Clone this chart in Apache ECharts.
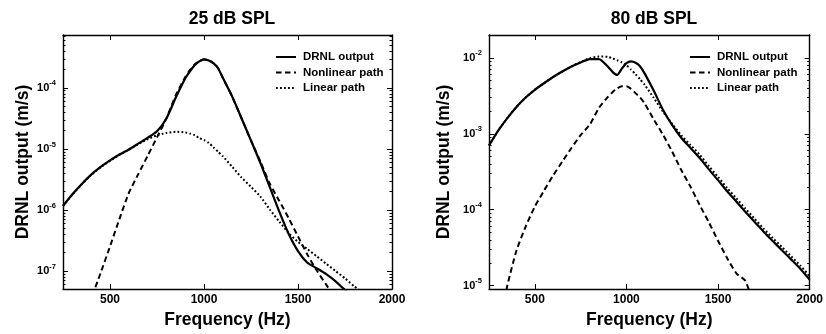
<!DOCTYPE html>
<html><head><meta charset="utf-8">
<script src="https://cdn.jsdelivr.net/npm/echarts@6/dist/echarts.min.js"></script>
<style>html,body{margin:0;padding:0;background:#fff}#c{width:826px;height:334px}</style>
</head><body><div id="c"></div>
<script>
// ---- data ----
const freq = [250,300,350,400,450,500,550,600,650,700,750,800,850,900,925,950,975,1000,1025,1050,1075,1100,1150,1200,1250,1300,1350,1400,1450,1500,1550,1600,1650,1700,1750,1800,1850,1900,1950,2000];

const drnl25 = [1.17e-6,1.81e-6,2.67e-6,3.8e-6,5.07e-6,6.5e-6,8.1e-6,9.8e-6,1.22e-5,1.52e-5,1.95e-5,3.16e-5,6.95e-5,1.42e-4,1.86e-4,2.35e-4,2.72e-4,2.94e-4,2.82e-4,2.54e-4,2.1e-4,1.46e-4,7.2e-5,3.16e-5,1.37e-5,5.9e-6,2.38e-6,9.5e-7,4.1e-7,2.13e-7,1.37e-7,1.11e-7,8.9e-8,6.8e-8,4.9e-8,3.5e-8,2.5e-8,1.8e-8,1.3e-8,9e-9];
const nonlin25 = [1.6e-9,4.5e-9,1.26e-8,3.5e-8,9.3e-8,2.53e-7,7.1e-7,1.9e-6,3.85e-6,7.7e-6,1.55e-5,3.16e-5,7.6e-5,1.5e-4,1.95e-4,2.43e-4,2.75e-4,2.92e-4,2.82e-4,2.54e-4,2.1e-4,1.46e-4,7.2e-5,3.16e-5,1.38e-5,6.2e-6,2.7e-6,1.42e-6,7.4e-7,3.7e-7,1.86e-7,1.02e-7,6e-8,3.5e-8,2e-8,1.2e-8,7e-9,4e-9,2.4e-9,1.4e-9];
const lin25 = [1.16e-6,1.79e-6,2.64e-6,3.75e-6,5.0e-6,6.4e-6,8.0e-6,9.7e-6,1.2e-5,1.44e-5,1.67e-5,1.83e-5,1.91e-5,1.87e-5,1.79e-5,1.68e-5,1.51e-5,1.4e-5,1.26e-5,1.07e-5,9e-6,7.6e-6,5.1e-6,3.4e-6,2.4e-6,1.66e-6,1.02e-6,6.5e-7,4.2e-7,3e-7,2.3e-7,1.74e-7,1.32e-7,1e-7,7.6e-8,5.6e-8,4.3e-8,3.2e-8,2.4e-8,1.8e-8];

const drnl80 = [7.0e-4,1.1e-3,1.61e-3,2.26e-3,3.0e-3,3.8e-3,4.63e-3,5.6e-3,6.6e-3,7.7e-3,8.7e-3,9.6e-3,9.6e-3,7.6e-3,6.5e-3,5.95e-3,7.2e-3,8.5e-3,9.0e-3,8.6e-3,7.7e-3,6.2e-3,3.65e-3,2.06e-3,1.3e-3,8.8e-4,6.5e-4,4.8e-4,3.4e-4,2.45e-4,1.75e-4,1.28e-4,9.3e-5,6.9e-5,5.1e-5,3.84e-5,2.9e-5,2.2e-5,1.66e-5,1.2e-5];
const nonlin80 = [6e-7,2.5e-6,1e-5,2.9e-5,6e-5,1.1e-4,1.78e-4,2.83e-4,4.3e-4,6.5e-4,9.6e-4,1.32e-3,2.19e-3,3.08e-3,3.55e-3,3.98e-3,4.22e-3,4.22e-3,3.9e-3,3.43e-3,3.0e-3,2.5e-3,1.53e-3,9.7e-4,5.8e-4,3.3e-4,2.0e-4,1.15e-4,6.8e-5,3.9e-5,2.3e-5,1.45e-5,1.15e-5,5e-6,2.5e-6,1.2e-6,6e-7,3e-7,1.5e-7,7e-8];
const lin80 = [7.0e-4,1.1e-3,1.61e-3,2.26e-3,3.0e-3,3.8e-3,4.63e-3,5.6e-3,6.6e-3,7.7e-3,8.8e-3,9.9e-3,1.04e-2,1.03e-2,9.8e-3,9.3e-3,8.7e-3,8.0e-3,7.0e-3,6.1e-3,5.2e-3,4.4e-3,2.95e-3,1.95e-3,1.35e-3,9.5e-4,7.1e-4,5.3e-4,3.75e-4,2.7e-4,1.93e-4,1.41e-4,1.03e-4,7.6e-5,5.6e-5,4.2e-5,3.2e-5,2.42e-5,1.83e-5,1.33e-5];

const xTicks = [500,1000,1500,2000];
const yTicks25 = [1e-7,1e-6,1e-5,1e-4];
const yTicks80 = [1e-5,1e-4,1e-3,1e-2];
const titles = ['25 dB SPL','80 dB SPL'];
const seriesNames = ['DRNL output','Nonlinear path','Linear path'];
const xName = 'Frequency (Hz)';
const yName = 'DRNL output (m/s)';

// ---- styling / layout ----
const FONT = '"Liberation Sans", Arial, Helvetica, sans-serif';
const panels = [
  {left:63, width:329, ymin:5.07e-8, ymax:7.35e-4, yTicks:yTicks25, data:[drnl25,nonlin25,lin25], nameGap:31, titleX:227, legendX:275},
  {left:489, width:327, ymin:9e-6, ymax:2e-2, yTicks:yTicks80, data:[drnl80,nonlin80,lin80], nameGap:36, titleX:649, legendX:689}
];
const lineTypes = ['solid',[5.5,3.5],[1.8,2.2]];
const lineWidths = [2.2,2,2];

function pairs(xs, ys){ return xs.map((x,i)=>[x, ys[i]]); }
function supLabel(v){
  const l = Math.log10(v); const e = Math.round(l);
  if (Math.abs(l - e) > 1e-6) return '';
  return '{b|10}{s|' + e + '}';
}
const axisLine = {show:true, onZero:false, lineStyle:{color:'#000', width:1.4}};
const tickStyle = {color:'#000', width:1};
const nameStyle = {fontFamily:FONT, fontWeight:'bold', fontSize:17.5, color:'#000'};

const grid=[], xAxis=[], yAxis=[], series=[], title=[], legend=[];
panels.forEach((p, gi) => {
  grid.push({left:p.left, top:35, width:p.width, height:258, containLabel:false});
  const xi = xAxis.length, yi = yAxis.length;
  xAxis.push({type:'value', gridIndex:gi, min:250, max:2000, position:'bottom', axisLine,
    axisTick:{show:true, inside:true, length:5, customValues:xTicks, lineStyle:tickStyle},
    axisLabel:{customValues:xTicks, margin:5, fontSize:12, fontWeight:'bold', color:'#000', fontFamily:FONT,
      formatter:(v)=>String(Math.round(v))},
    splitLine:{show:false}, name:xName, nameLocation:'middle', nameGap:19, nameTextStyle:nameStyle});
  xAxis.push({type:'value', gridIndex:gi, min:250, max:2000, position:'top', axisLine,
    axisTick:{show:true, inside:true, length:5, customValues:xTicks, lineStyle:tickStyle},
    axisLabel:{show:false}, splitLine:{show:false}});
  const yBase = {type:'log', logBase:10, gridIndex:gi, min:p.ymin, max:p.ymax, axisLine,
    axisTick:{show:true, inside:true, length:5, customValues:p.yTicks, lineStyle:tickStyle},
    minorTick:{show:true, splitNumber:9, length:2.5, lineStyle:tickStyle},
    splitLine:{show:false}, minorSplitLine:{show:false}};
  yAxis.push(Object.assign({}, yBase, {position:'left',
    axisLabel:{customValues:p.yTicks, margin:7, formatter:supLabel, color:'#000',
      rich:{b:{fontSize:11, fontWeight:'bold', fontFamily:FONT, color:'#000', lineHeight:17},
            s:{fontSize:7.5, fontWeight:'bold', fontFamily:FONT, color:'#000', verticalAlign:'top', lineHeight:9}}},
    name:yName, nameLocation:'middle', nameGap:p.nameGap, nameRotate:90, nameTextStyle:nameStyle}));
  yAxis.push(Object.assign({}, yBase, {position:'right', axisLabel:{show:false}}));
  p.data.forEach((arr, si) => {
    series.push({type:'line', name:seriesNames[si], xAxisIndex:xi, yAxisIndex:yi,
      data:pairs(freq, arr), symbol:'none', showSymbol:false, smooth:0.2,
      clip:true, silent:true, itemStyle:{color:'#000'},
      lineStyle:{color:'#000', width:lineWidths[si], type:lineTypes[si], cap:'butt'}});
  });
  title.push({text:titles[gi], left:p.titleX, top:5, textAlign:'center',
    textStyle:{fontFamily:FONT, fontWeight:'bold', fontSize:17.5, color:'#000'}});
  legend.push({data:seriesNames, orient:'vertical', left:p.legendX, top:51, padding:0,
    itemWidth:20, itemHeight:10, itemGap:3.5, selectedMode:false,
    itemStyle:{opacity:0},
    textStyle:{fontFamily:FONT, fontWeight:'bold', fontSize:11.5, color:'#000', padding:[0,0,0,2]}});
});

const chart = echarts.init(document.getElementById('c'), null, {renderer:'canvas'});
chart.setOption({backgroundColor:'#fff', animation:false, title, legend, grid, xAxis, yAxis, series});
</script>
</body></html>
